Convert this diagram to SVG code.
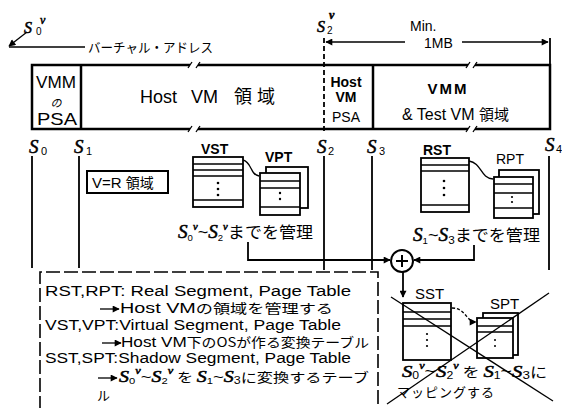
<svg xmlns="http://www.w3.org/2000/svg" width="562" height="408" viewBox="0 0 562 408">
<style>
.t{font-family:"Liberation Sans","Noto Sans CJK JP",sans-serif;fill:#000}
.j{font-family:"Noto Sans CJK JP",sans-serif;fill:#000}
.s{font-family:"Liberation Serif",serif;font-style:italic;fill:#000;stroke:#000;stroke-width:0.5}
.b{font-weight:bold}
.thick{fill:none;stroke:#000;stroke-width:2.5}
.ln{fill:none;stroke:#000;stroke-width:1.8}
.thin{fill:none;stroke:#000;stroke-width:1.3}
.tab{fill:#fff;stroke:#000;stroke-width:1.8}
.dot{fill:#000}
</style>
<defs>
<marker id="ah" viewBox="0 0 10 10" refX="9" refY="5" markerWidth="8" markerHeight="7" markerUnits="userSpaceOnUse" orient="auto">
<path d="M0,0 L10,5 L0,10 z" fill="#000"/>
</marker>
</defs>
<rect width="562" height="408" fill="#fff"/>

<!-- top labels -->
<g id="virtual-address">
<text class="s" x="24" y="33" font-size="16">S</text>
<text class="t" x="36" y="35" font-size="10">0</text>
<text class="s" x="40" y="24" font-size="12">v</text>
<text class="j" x="88" y="52" font-size="13" textLength="125" lengthAdjust="spacingAndGlyphs">バーチャル・アドレス</text>
</g>
<g id="s2v-label">
<text class="s" x="317" y="32" font-size="16">S</text>
<text class="t" x="327" y="34" font-size="10">2</text>
<text class="s" x="329" y="19" font-size="12" font-weight="bold">v</text>
<text class="t" x="410" y="31" font-size="14">Min.</text>
<text class="t" x="424" y="48" font-size="14">1MB</text>
</g>

<!-- main address bar -->
<g id="address-bar">
<path class="thick" d="M190,65 H32 V129 H190 M198,65 H468 M198,129 H468 M475,65 H550 V129 H475"/>
<path class="thin" d="M188,68 L192,62 M196,68 L200,62 M188,132 L192,126 M196,132 L200,126 M466,68 L470,62 M473,68 L477,62 M466,132 L470,126 M473,132 L477,126"/>
<line class="thick" x1="81" y1="65" x2="81" y2="129"/>
<line class="thick" x1="373" y1="65" x2="373" y2="129"/>
</g>
<g id="vmm-psa">
<text class="t" x="56" y="88" font-size="17" text-anchor="middle" textLength="40" lengthAdjust="spacingAndGlyphs">VMM</text>
<text class="j" x="56" y="107" font-size="11" text-anchor="middle" font-style="italic">の</text>
<text class="t" x="57" y="125" font-size="17" text-anchor="middle" textLength="40" lengthAdjust="spacingAndGlyphs">PSA</text>
</g>
<g id="host-vm-area">
<text class="t" x="140" y="103" font-size="18">Host</text>
<text class="t" x="191" y="103" font-size="18">VM</text>
<text class="j" x="234" y="103" font-size="18" letter-spacing="5">領域</text>
</g>
<g id="host-vm-psa">
<text class="t b" x="346" y="87" font-size="14" text-anchor="middle">Host</text>
<text class="t b" x="346" y="102" font-size="14" text-anchor="middle">VM</text>
<text class="t" x="346" y="122" font-size="14" text-anchor="middle">PSA</text>
</g>
<g id="vmm-test-area">
<text class="t b" x="448" y="94" font-size="15" text-anchor="middle" letter-spacing="2">VMM</text>
<text class="t" x="402" y="120" font-size="16">&amp; Test VM <tspan class="j" font-size="15">領域</tspan></text>
</g>

<!-- boundaries -->
<g id="boundaries">
<text class="s" x="29" y="153" font-size="19">S</text><text class="t" x="41" y="155" font-size="11">0</text>
<text class="s" x="74" y="153" font-size="19">S</text><text class="t" x="86" y="155" font-size="11">1</text>
<text class="s" x="317" y="153" font-size="19">S</text><text class="t" x="328" y="155" font-size="11">2</text>
<text class="s" x="367" y="153" font-size="19">S</text><text class="t" x="379" y="155" font-size="11">3</text>
<text class="s" x="545" y="151" font-size="19">S</text><text class="t" x="556" y="153" font-size="11">4</text>
<line class="ln" x1="32" y1="156" x2="32" y2="268"/>
<line class="ln" x1="79" y1="156" x2="79" y2="268"/>
<line class="ln" x1="324" y1="156" x2="324" y2="270"/>
<line class="ln" x1="372" y1="156" x2="372" y2="270"/>
<line class="ln" x1="549" y1="156" x2="549" y2="270"/>
</g>

<g id="vr-area">
<rect x="87" y="171" width="81" height="22" fill="none" stroke="#000" stroke-width="2"/>
<text class="t" x="92" y="188" font-size="15">V=R <tspan class="j" font-size="14">領域</tspan></text>
</g>

<!-- tables -->
<g id="vst">
<text class="t b" x="201" y="154" font-size="14">VST</text>
<rect class="tab" x="193" y="157" width="50" height="50"/>
<path class="thin" d="M193,164 H243 M193,170 H243 M193,176 H243 M193,200 H243"/>
<circle class="dot" cx="218" cy="183" r="1.3"/><circle class="dot" cx="218" cy="189" r="1.3"/><circle class="dot" cx="218" cy="195" r="1.3"/>
</g>
<g id="vpt">
<text class="t b" x="265" y="162" font-size="14">VPT</text>
<rect class="tab" x="266" y="167" width="42" height="41"/>
<rect class="tab" x="260" y="173" width="40" height="42"/>
<path class="thin" d="M260,181 H300 M260,188 H300 M260,207 H300"/>
<circle class="dot" cx="280" cy="193" r="1.2"/><circle class="dot" cx="280" cy="199" r="1.2"/>
</g>
<g id="rst">
<text class="t b" x="423" y="155" font-size="14">RST</text>
<rect class="tab" x="421" y="158" width="48" height="54"/>
<path class="thin" d="M421,165 H469 M421,171 H469 M421,205 H469"/>
<circle class="dot" cx="444" cy="181" r="1.3"/><circle class="dot" cx="444" cy="188" r="1.3"/><circle class="dot" cx="444" cy="195" r="1.3"/>
</g>
<g id="rpt">
<text class="t" x="496" y="164" font-size="14">RPT</text>
<rect class="tab" x="499" y="170" width="40" height="44"/>
<rect class="tab" x="494" y="177" width="39" height="41"/>
<path class="thin" d="M494,184 H533 M494,193 H533 M494,208 H533"/>
<circle class="dot" cx="512" cy="197" r="1.1"/><circle class="dot" cx="512" cy="202" r="1.1"/>
</g>
<g id="sst">
<text class="t" x="415" y="299" font-size="15">SST</text>
<rect class="tab" x="403" y="303" width="48" height="57"/>
<path class="thin" d="M403,312 H451 M403,319 H451 M403,326 H451"/>
<circle class="dot" cx="427" cy="334" r="1.1"/><circle class="dot" cx="427" cy="340" r="1.1"/><circle class="dot" cx="427" cy="346" r="1.1"/>
</g>
<g id="spt">
<text class="t" x="490" y="309" font-size="15">SPT</text>
<rect class="tab" x="483" y="313" width="35" height="42"/>
<rect class="tab" x="477" y="318" width="36" height="40"/>
<path class="thin" d="M477,326 H513 M477,332 H513"/>
<circle class="dot" cx="495" cy="340" r="1"/><circle class="dot" cx="495" cy="346" r="1"/>
</g>

<g id="labels">
<text class="t" x="178" y="238" font-size="17" textLength="135" lengthAdjust="spacingAndGlyphs"><tspan class="s" font-size="18">S</tspan><tspan font-size="9" dy="3">0</tspan><tspan class="s" font-size="10" dy="-11">v</tspan><tspan dy="8">~</tspan><tspan class="s" font-size="18">S</tspan><tspan font-size="9" dy="3">2</tspan><tspan class="s" font-size="10" dy="-11">v</tspan><tspan class="j" dy="8" font-size="16">までを管理</tspan></text>
<text class="t" x="413" y="241" font-size="17" textLength="127" lengthAdjust="spacingAndGlyphs"><tspan class="s" font-size="18">S</tspan><tspan font-size="9" dy="3">1</tspan><tspan dy="-3">~</tspan><tspan class="s" font-size="18">S</tspan><tspan font-size="11" dy="3">3</tspan><tspan class="j" dy="-3" font-size="16">までを管理</tspan></text>
<text class="t" x="402" y="377" font-size="16" textLength="145" lengthAdjust="spacingAndGlyphs"><tspan class="s" font-size="17">S</tspan><tspan font-size="10" dy="2">0</tspan><tspan class="s" font-size="10" dy="-10">v</tspan><tspan dy="8">~</tspan><tspan class="s" font-size="17">S</tspan><tspan font-size="10" dy="2">2</tspan><tspan class="s" font-size="10" dy="-10">v</tspan><tspan class="j" dy="8" font-size="14"> を </tspan><tspan class="s" font-size="17">S</tspan><tspan font-size="10" dy="2">1</tspan><tspan dy="-2">~</tspan><tspan class="s" font-size="17">S</tspan><tspan font-size="11" dy="2">3</tspan><tspan class="j" dy="-2" font-size="14">に</tspan></text>
<text class="j" x="397" y="397" font-size="13" letter-spacing="1">マッピングする</text>
</g>

<!-- connectors -->
<g id="connectors">
<path class="ln" d="M324,38 V133" stroke-dasharray="5,3"/>
<line class="ln" x1="550" y1="38" x2="550" y2="65"/>
<line class="thin" x1="405" y1="42" x2="326" y2="42" marker-end="url(#ah)"/>
<line class="thin" x1="462" y1="42" x2="548" y2="42" marker-end="url(#ah)"/>
<path class="thin" d="M27,32 L9,46" marker-end="url(#ah)"/>
<line class="thin" x1="9" y1="47" x2="85" y2="47"/>
<path class="thin" d="M243,160 C252,162 250,175 259,176"/>
<path class="thin" d="M469,161 C482,163 480,178 493,179"/>
<path class="thin" d="M452,308 C466,308 466,322 476,322" stroke-dasharray="3,2" marker-end="url(#ah)"/>
<path class="ln" d="M248,242 V260 H390" marker-end="url(#ah)"/>
<path class="ln" d="M474,245 V260 H414" marker-end="url(#ah)"/>
<circle cx="402" cy="261" r="11" fill="#fff" stroke="#000" stroke-width="2"/>
<path d="M402,255 V267 M396,261 H408" stroke="#000" stroke-width="2"/>
<line class="ln" x1="403" y1="272" x2="403" y2="297" marker-end="url(#ah)"/>
<line class="thin" x1="391" y1="297" x2="553" y2="401"/>
<line class="thin" x1="387" y1="404" x2="549" y2="293"/>
</g>

<!-- legend -->
<g id="legend">
<path d="M40,410 V272 H378 V410" fill="none" stroke="#000" stroke-width="1.6" stroke-dasharray="14,4"/>
<text class="t" x="45" y="296" font-size="15.5" textLength="306" lengthAdjust="spacingAndGlyphs">RST,RPT: Real Segment, Page Table</text>
<line class="thin" x1="100" y1="309" x2="119" y2="309" marker-end="url(#ah)"/>
<text class="t" x="120" y="313" font-size="15" textLength="213" lengthAdjust="spacingAndGlyphs">Host VM<tspan class="j" font-size="13">の領域を管理する</tspan></text>
<text class="t" x="45" y="330" font-size="15.5" textLength="296" lengthAdjust="spacingAndGlyphs">VST,VPT:Virtual Segment, Page Table</text>
<line class="thin" x1="102" y1="343" x2="121" y2="343" marker-end="url(#ah)"/>
<text class="t" x="121" y="347" font-size="15" textLength="248" lengthAdjust="spacingAndGlyphs">Host VM<tspan class="j" font-size="13">下のOSが作る変換テーブル</tspan></text>
<text class="t" x="45" y="363" font-size="15.5" textLength="306" lengthAdjust="spacingAndGlyphs">SST,SPT:Shadow Segment, Page Table</text>
<line class="thin" x1="98" y1="378" x2="117" y2="378" marker-end="url(#ah)"/>
<text class="t" x="119" y="382" font-size="15" textLength="250" lengthAdjust="spacingAndGlyphs"><tspan class="s" font-size="16">S</tspan><tspan font-size="9" dy="2">0</tspan><tspan class="s" font-size="10" dy="-10">v</tspan><tspan dy="8">~</tspan><tspan class="s" font-size="16">S</tspan><tspan font-size="9" dy="2">2</tspan><tspan class="s" font-size="10" dy="-10">v</tspan><tspan class="j" dy="8" font-size="13"> を </tspan><tspan class="s" font-size="16">S</tspan><tspan font-size="9" dy="2">1</tspan><tspan dy="-2">~</tspan><tspan class="s" font-size="16">S</tspan><tspan font-size="10" dy="2">3</tspan><tspan class="j" dy="-2" font-size="13">に変換するテーブ</tspan></text>
<text class="j" x="97" y="400" font-size="13">ル</text>
</g>
</svg>
